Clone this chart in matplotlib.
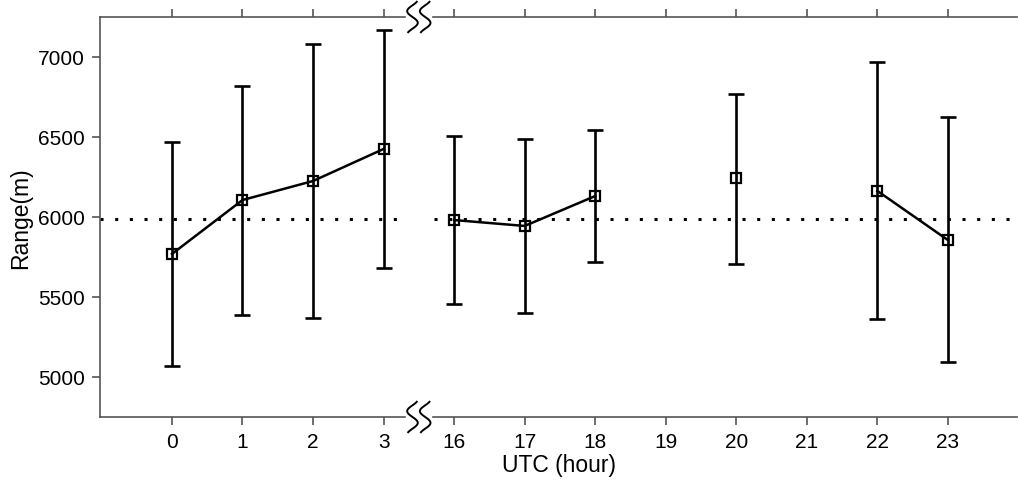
import numpy as np
import matplotlib
matplotlib.use("Agg")
import matplotlib.pyplot as plt

plt.rcParams['font.family'] = ['Liberation Sans', 'DejaVu Sans']

tick_hours = [0, 1, 2, 3, 16, 17, 18, 19, 20, 21, 22, 23]
data_hours = [0, 1, 2, 3, 16, 17, 18, 20, 22, 23]
mean_vals = [5769, 6106, 6225, 6425, 5981, 5944, 6131, 6244, 6163, 5856]
upper_vals = [6469, 6819, 7081, 7169, 6506, 6488, 6544, 6769, 6969, 6625]
lower_vals = [5069, 5387, 5369, 5681, 5456, 5400, 5719, 5706, 5363, 5094]
ref_level = 5986
break_after = 3  # break between hour 3 and 16

pos = {h: i for i, h in enumerate(tick_hours)}
xb = pos[break_after] + 0.5

fig = plt.figure(figsize=(10.18, 4.81), dpi=100)
ax = fig.add_axes([100/1018, 1-418/481, 917/1018, 400/481])
ax.set_xlim(-1.02, 11.98)
ax.set_ylim(4750, 7250)

xs = np.array([pos[h] for h in data_hours])
m = np.array(mean_vals)
lo = m - np.array(lower_vals)
hi = np.array(upper_vals) - m

ax.errorbar(xs, m, yerr=[lo, hi], fmt='none', ecolor='black', elinewidth=1.9,
            capsize=6, capthick=1.9, zorder=3)

# connect consecutive hours within the same segment
seg = [0]
for i in range(1, len(data_hours)):
    a, b = data_hours[i-1], data_hours[i]
    if pos[b] - pos[a] == 1 and not (a <= break_after < b):
        seg.append(seg[-1])
    else:
        seg.append(seg[-1] + 1)
seg = np.array(seg)
for s in np.unique(seg):
    idx = seg == s
    ax.plot(xs[idx], m[idx], color='black', lw=1.8, zorder=4)
ax.plot(xs, m, ls='none', marker='s', ms=7, mfc='none', mec='black', mew=1.6, zorder=5)

# reference dotted line, with gap at break
ax.plot([-1.02, xb - 0.25], [ref_level]*2, color='black', lw=2.2, ls=(0, (1, 3.8)), zorder=2)
ax.plot([xb + 0.22, 11.98], [ref_level]*2, color='black', lw=2.2, ls=(0, (1, 3.8)), zorder=2)

spc = '#555555'
for side in ['top', 'bottom', 'right']:
    ax.spines[side].set_visible(False)
ax.spines['left'].set_color(spc)
ax.spines['left'].set_linewidth(1.2)

# custom top/bottom spines with break
tr = ax.get_xaxis_transform()
for yy in (0, 1):
    ax.plot([-1.02, xb - 0.2], [yy, yy], transform=tr, color=spc, lw=1.2, clip_on=False)
    ax.plot([xb + 0.2, 11.98], [yy, yy], transform=tr, color=spc, lw=1.2, clip_on=False)
    s = np.linspace(-0.15, 1.15, 80)
    for dx in (-0.09, 0.09):
        xx = xb + dx - 0.075 * np.sin(2 * np.pi * s)
        yv = yy + 0.038 - 0.076 * (s + 0.15) / 1.3
        ax.plot(xx, yv, transform=tr, color='black', lw=1.4, clip_on=False)

ax.set_xticks(range(len(tick_hours)))
ax.set_xticklabels([str(h) for h in tick_hours])
ax.set_yticks([5000, 5500, 6000, 6500, 7000])
ax.tick_params(axis='both', direction='out', length=6, width=1.2, color=spc,
               labelsize=15, top=True, labeltop=False, pad=5)
ax.set_xlabel('UTC (hour)', fontsize=16.5, labelpad=1)
ax.set_ylabel('Range(m)', fontsize=16.5, labelpad=4)

fig.savefig('out.png', dpi=100)
